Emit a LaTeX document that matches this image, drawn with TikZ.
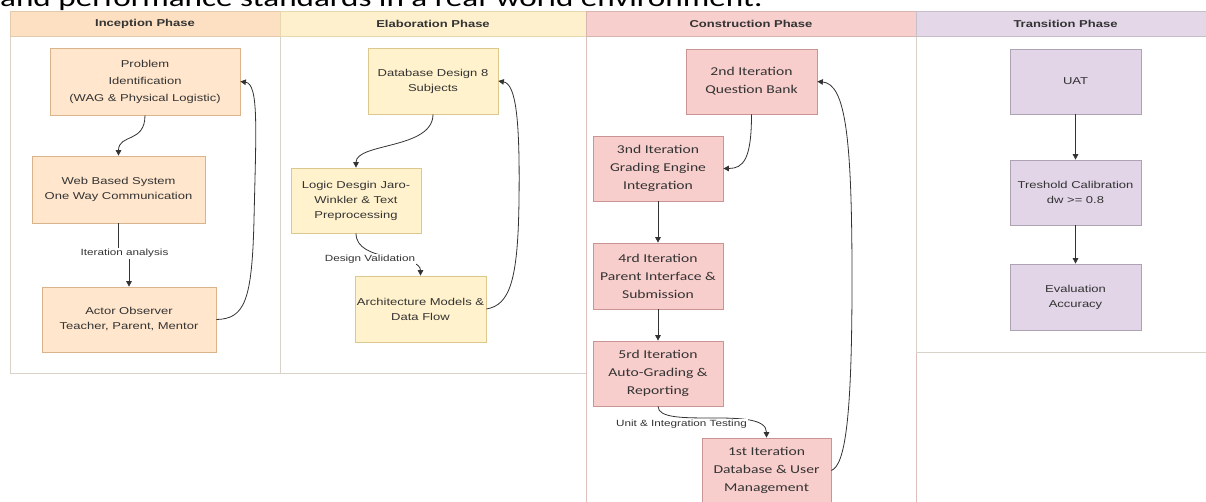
\documentclass[tikz,border=0pt]{standalone}
\usepackage{fontspec}
\setmainfont{Liberation Sans}[FakeStretch=1.3]
\newfontfamily\calib{Carlito}[FakeStretch=1.3]
\usetikzlibrary{arrows.meta}
\definecolor{ofill}{HTML}{FFE6CC}
\definecolor{ostroke}{HTML}{D9B48A}
\definecolor{ohdr}{HTML}{FDE0C2}
\definecolor{yfill}{HTML}{FFF2CC}
\definecolor{ystroke}{HTML}{DCC78C}
\definecolor{yhdr}{HTML}{FEF0CC}
\definecolor{rfill}{HTML}{F8CECC}
\definecolor{rstroke}{HTML}{C99493}
\definecolor{rhdr}{HTML}{F7CFCD}
\definecolor{pfill}{HTML}{E1D5E7}
\definecolor{pstroke}{HTML}{ADA3B3}
\definecolor{phdr}{HTML}{E3D7E8}
\definecolor{txt}{HTML}{333333}
\definecolor{edge}{HTML}{333333}
\definecolor{lanel}{HTML}{D8D2C8}
\begin{document}
\begin{tikzpicture}[x=1pt,y=-1pt,
  box/.style={draw, rectangle, align=center, text=txt, inner sep=2pt, line width=0.7pt,
    font=\fontsize{10}{15}\selectfont},
  obox/.style={box, fill=ofill, draw=ostroke},
  ybox/.style={box, fill=yfill, draw=ystroke},
  rbox/.style={box, fill=rfill, draw=rstroke, font=\calib\fontsize{12}{18}\selectfont},
  pbox/.style={box, fill=pfill, draw=pstroke},
  lane/.style={draw=lanel, line width=0.7pt, fill=white, rectangle, inner sep=0pt},
  hdr/.style={rectangle, inner sep=0pt, line width=0.7pt, text=txt,
    font=\bfseries\fontsize{10}{12}\selectfont, minimum height=25},
  arr/.style={draw=edge, line width=0.8pt, -{Triangle[length=5.5pt,width=5.5pt]}},
  lbl/.style={fill=white, text=txt, inner sep=1pt, font=\fontsize{9}{10}\selectfont}
]
\useasboundingbox (0,0) rectangle (1206,502);
\clip (0,0) rectangle (1206,502);
\fill[white] (0,0) rectangle (1206,502);

% cropped text line above the diagram
\node[anchor=base west, inner sep=0pt, text=black, font=\calib\fontsize{25.5}{30}\selectfont] (toptext) at (0,7) {and performance standards in a real-world environment.};

% lanes
\node[lane, minimum width=270, minimum height=337] (l1) at (145,204.5) {};
\node[lane, minimum width=306, minimum height=337] (l2) at (433,204.5) {};
\node[lane, draw=rstroke!60, minimum width=330, minimum height=484] (l3) at (751,278) {};
\node[lane, minimum width=299, minimum height=316] (l4) at (1065.5,194) {};

% headers
\node[hdr, fill=ohdr, draw=ostroke!70, minimum width=270] (h1) at (145,23.5) {Inception Phase};
\node[hdr, fill=yhdr, draw=ystroke!70, minimum width=306] (h2) at (433,23.5) {Elaboration Phase};
\node[hdr, fill=rhdr, draw=rstroke!70, minimum width=330] (h3) at (751,23.5) {Construction Phase};
\node[hdr, fill=phdr, draw=pstroke!70, minimum width=299] (h4) at (1065.5,23.5) {Transition Phase};

% Inception
\node[obox, minimum width=190, minimum height=67, font=\fontsize{10}{17}\selectfont] (p1) at (145,81.5) {Problem\\Identification\\(WAG \& Physical Logistic)};
\node[obox, minimum width=173, minimum height=67] (p2) at (118.5,189.5) {Web Based System\\One Way Communication};
\node[obox, minimum width=174, minimum height=65] (p3) at (129,319.5) {Actor Observer\\Teacher, Parent, Mentor};

% Elaboration
\node[ybox, minimum width=130, minimum height=66] (e1) at (433,81) {Database Design 8\\Subjects};
\node[ybox, minimum width=130, minimum height=65] (e2) at (356,200.5) {Logic Desgin Jaro-\\Winkler \& Text\\Preprocessing};
\node[ybox, minimum width=131, minimum height=66] (e3) at (420.5,309) {Architecture Models \&\\Data Flow};

% Construction
\node[rbox, minimum width=131, minimum height=65] (c2) at (751.5,81.5) {2nd Iteration\\Question Bank};
\node[rbox, minimum width=130, minimum height=65] (c3) at (658,168.5) {3nd Iteration\\Grading Engine\\Integration};
\node[rbox, minimum width=130, minimum height=66] (c4) at (658,276) {4rd Iteration\\Parent Interface \&\\Submission};
\node[rbox, minimum width=130, minimum height=65] (c5) at (658,373.5) {5rd Iteration\\Auto-Grading \&\\Reporting};
\node[rbox, minimum width=129, minimum height=65] (c1) at (766.5,470.5) {1st Iteration\\Database \& User\\Management};

% Transition
\node[pbox, minimum width=131, minimum height=65] (t1) at (1075.5,81.5) {UAT};
\node[pbox, minimum width=131, minimum height=65] (t2) at (1075.5,192.5) {Treshold Calibration\\dw >= 0.8};
\node[pbox, minimum width=131, minimum height=66] (t3) at (1075.5,297) {Evaluation\\Accuracy};

% Inception edges
\draw[arr] (p1.south) .. controls +(0,28) and +(0,-22) .. (p2.north);
\draw[arr] (p2.south) -- ++(0,30) node[lbl, xshift=6pt] {Iteration analysis} -| (p3.north);
\draw[arr] (p3.east) .. controls (245,319) and (252,300) .. (254,220) .. controls (256,130) and (259,84) .. (p1.east);

% Elaboration edges
\draw[arr] (e1.south) .. controls +(0,35) and +(0,-25) .. (e2.north);
\draw[arr] (e2.south) .. controls +(0,30) and +(0,-22) .. (e3.north) node[lbl, pos=0.3, yshift=-8pt] {Design Validation};
\draw[arr] (e3.east) .. controls (510,305) and (518,280) .. (519,200) .. controls (520,120) and (516,84) .. (e1.east);

% Construction edges
\draw[arr] (c2.south) .. controls +(0,45) and +(20,0) .. (c3.east);
\draw[arr] (c3.south) -- (c4.north);
\draw[arr] (c4.south) -- (c5.north);
\draw[arr] (c5.south) .. controls +(0,24) and +(0,-33) .. (c1.north) node[lbl, pos=0.3, yshift=-7pt] {Unit \& Integration Testing};
\draw[arr] (c1.east) .. controls (845,465) and (852,420) .. (852,280) .. controls (852,140) and (846,84) .. (c2.east);

% Transition edges
\draw[arr] (t1.south) -- (t2.north);
\draw[arr] (t2.south) -- (t3.north);
\end{tikzpicture}
\end{document}
